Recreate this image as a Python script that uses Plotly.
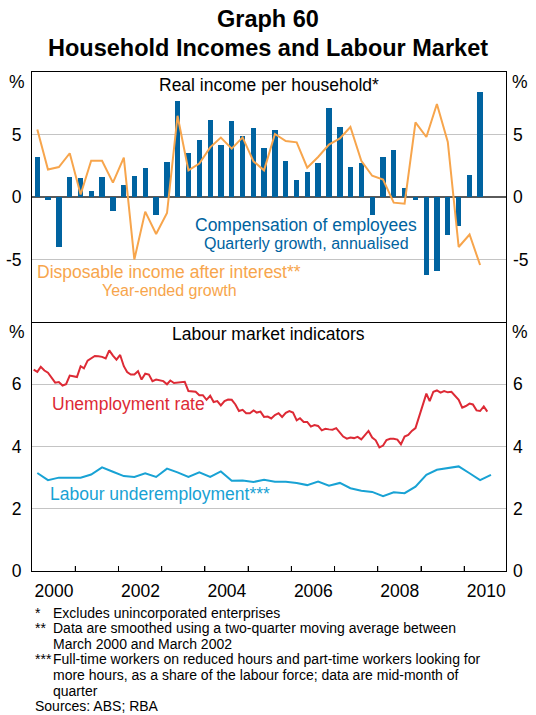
import pandas as pd
import plotly.graph_objects as go

# ---------------- data ----------------
# Compensation of employees, quarterly growth annualised (%), Q1 2000 - Q2 2010
comp_employees = [3.2, -0.2, -4.0, 1.6, 1.5, 0.45, 1.6, -1.1, 1.0, 1.65, 2.3, -1.45,
                  2.8, 7.7, 3.5, 4.6, 6.2, 4.2, 6.1, 4.85, 5.5, 3.9, 5.4, 2.85,
                  1.33, 1.97, 2.7, 7.1, 5.57, 2.37, 2.7, -1.4, 3.17, 3.73, 0.7, -0.25,
                  -6.24, -5.9, -3.0, -2.3, 1.8, 8.4]
# Disposable income after interest, year-ended growth (%)
disp_income = [5.4, 2.2, 2.4, 3.5, 0.2, 2.9, 2.9, 1.15, 3.15, -5.0, -1.17, -2.96,
               -1.28, 6.5, 2.13, 2.67, 3.97, 4.75, 3.87, 4.77, 2.85, 2.13, 5.04, 4.48,
               4.37, 2.35, 3.2, 4.19, 4.69, 5.6, 2.9, 1.7, 1.39, -0.45, -0.53, 5.97,
               4.8, 7.44, 4.4, -4.0, -3.0, -5.44]
# Unemployment rate (%), monthly Jan 2000 - Jul 2010
unemployment = [6.47, 6.40, 6.56, 6.44, 6.37, 6.19, 6.05, 6.07, 5.96, 6.00, 6.28, 6.26,
                6.23, 6.58, 6.51, 6.76, 6.83, 6.91, 6.90, 6.88, 6.83, 7.09, 6.92, 6.79,
                6.94, 6.58, 6.39, 6.31, 6.31, 6.42, 6.15, 6.34, 6.31, 6.10, 6.15, 6.13,
                6.10, 6.00, 6.12, 6.04, 6.06, 6.07, 6.08, 5.78, 5.78, 5.76, 5.65, 5.65,
                5.50, 5.63, 5.43, 5.46, 5.32, 5.46, 5.51, 5.50, 5.35, 5.14, 5.18, 5.07,
                5.07, 5.16, 5.09, 5.12, 4.95, 4.96, 4.90, 5.01, 5.07,
                4.95, 5.08, 5.14, 5.09, 4.84, 4.91, 4.79, 4.79, 4.64, 4.69, 4.66, 4.52,
                4.57, 4.55, 4.54, 4.59, 4.44, 4.32, 4.25, 4.29, 4.27, 4.31, 4.23, 4.36,
                4.50, 4.29, 4.20, 3.97, 4.03, 4.21, 4.25, 4.25, 4.22, 4.07, 4.32, 4.37,
                4.50, 4.59, 4.93, 5.35, 5.70, 5.46, 5.76, 5.80, 5.73, 5.78, 5.74, 5.76,
                5.62, 5.50, 5.25, 5.30, 5.38, 5.35, 5.16, 5.14, 5.29, 5.12]
# Labour underemployment (%), quarterly mid-month Feb 2000 - Aug 2010
underemployment = [3.15, 2.92, 3.0, 3.0, 3.0, 3.1, 3.33, 3.19, 3.05, 3.02, 3.14, 3.02,
                   3.29, 3.17, 3.02, 3.17, 3.02, 3.2, 2.9, 2.91, 2.86, 2.93, 2.87,
                   2.87, 2.83, 2.76, 2.87, 2.74, 2.83, 2.66, 2.58, 2.54, 2.40, 2.53, 2.50,
                   2.71, 3.09, 3.25, 3.31, 3.36, 3.14, 2.92, 3.09]

quarter_dates = pd.date_range("2000-02-01", periods=len(comp_employees), freq="3MS") + pd.Timedelta(days=14)
month_dates = pd.date_range("2000-01-01", periods=len(unemployment), freq="MS") + pd.Timedelta(days=14)
underemp_dates = pd.date_range("2000-02-01", periods=len(underemployment), freq="3MS") + pd.Timedelta(days=14)

# year-boundary ticks; only even years are labelled (labels centred in the year)
year_ticks = [f"{y}-01-01" for y in range(2000, 2011)]
year_tick_text = ["2000", "", "2002", "", "2004", "", "2006", "", "2008", "", "2010"]
x_range = ["2000-01-01", "2010-12-20"]

top_ticks = [-5, 0, 5]
top_tick_text = ["-5", "0", "5"]
bottom_ticks = [0, 2, 4, 6]
bottom_tick_text = ["0", "2", "4", "6"]

BLUE = "#0063a0"
ORANGE = "#f7a54c"
RED = "#dd2a35"
CYAN = "#18a2d4"
FONT = "Liberation Sans, Arial, sans-serif"

# ---------------- figure ----------------
W, H = 536, 715
L, R, T, B = 32, 30, 72, 144
PW, PH = W - L - R, H - T - B
YEAR_PX = PW / 10.97


def px(x):
    return (x - L) / PW


def py(y):
    return (H - B - y) / PH


fig = go.Figure()

fig.add_trace(go.Bar(x=quarter_dates, y=comp_employees, marker_color=BLUE,
                     marker_line_width=0, width=45 * 86400000,
                     xaxis="x2", yaxis="y2", showlegend=False))
fig.add_trace(go.Scatter(x=quarter_dates, y=disp_income, mode="lines",
                         line=dict(color=ORANGE, width=2),
                         xaxis="x2", yaxis="y4", showlegend=False))
fig.add_trace(go.Scatter(x=month_dates, y=unemployment, mode="lines",
                         line=dict(color=RED, width=2), xaxis="x", yaxis="y",
                         showlegend=False))
fig.add_trace(go.Scatter(x=underemp_dates, y=underemployment, mode="lines",
                         line=dict(color=CYAN, width=2), xaxis="x", yaxis="y3",
                         showlegend=False))

split = py(322)
tickfont = dict(family=FONT, size=17.5, color="black")

fig.update_layout(
    width=W, height=H,
    margin=dict(l=L, r=R, t=T, b=B, pad=0, autoexpand=False),
    paper_bgcolor="white", plot_bgcolor="white",
    font=dict(family=FONT, color="black"),
    bargap=0,
    xaxis=dict(domain=[0, 1], anchor="y", range=x_range, type="date",
               automargin=False,
               tickmode="array", tickvals=year_ticks, ticktext=year_tick_text,
               ticklabelshift=int(round(YEAR_PX / 2)), ticklabelstandoff=4,
               ticks="inside", ticklen=5, tickcolor="black", tickwidth=1,
               tickfont=tickfont, showgrid=False, zeroline=False,
               showline=True, linecolor="black", linewidth=1),
    xaxis2=dict(domain=[0, 1], anchor="y2", range=x_range, type="date",
                automargin=False,
                showticklabels=False, ticks="", showgrid=False, zeroline=False,
                showline=True, linecolor="black", linewidth=1, mirror=True),
    yaxis=dict(domain=[0, split], anchor="x", range=[0, 8], tickmode="array",
               tickvals=bottom_ticks, ticktext=bottom_tick_text, ticks="",
               tickfont=tickfont, ticklabelstandoff=6, automargin=False,
               showgrid=True, gridcolor="#c4c4c4", gridwidth=1, zeroline=False,
               showline=True, linecolor="black", linewidth=1, mirror=True),
    yaxis2=dict(domain=[split, 1], anchor="x2", range=[-10, 10], tickmode="array",
                tickvals=top_ticks, ticktext=top_tick_text, ticks="",
                tickfont=tickfont, ticklabelstandoff=6, automargin=False,
                showgrid=True, gridcolor="#c4c4c4", gridwidth=1,
                zeroline=True, zerolinecolor="#5a5a5a", zerolinewidth=2,
                showline=True, linecolor="black", linewidth=1, mirror=True),
    yaxis3=dict(overlaying="y", side="right", anchor="x", range=[0, 8],
                tickmode="array", tickvals=bottom_ticks, ticktext=bottom_tick_text,
                ticks="", tickfont=tickfont, ticklabelstandoff=6,
                automargin=False, showgrid=False, zeroline=False, showline=False),
    yaxis4=dict(overlaying="y2", side="right", anchor="x2", range=[-10, 10],
                tickmode="array", tickvals=top_ticks, ticktext=top_tick_text,
                ticks="", tickfont=tickfont, ticklabelstandoff=6,
                automargin=False, showgrid=False, zeroline=False, showline=False),
)

# year-boundary tick marks along the bottom axis (inside, 5 px)
tick_height = 5 / (PH * split)
for yt in year_ticks[1:]:
    fig.add_shape(type="line", xref="x", yref="y domain", x0=yt, x1=yt,
                  y0=0, y1=tick_height, line=dict(color="black", width=1),
                  layer="above")

annotations = []


def add_text(text, x, y, size, color="black", xanchor="center", bold=False):
    if bold:
        text = f"<b>{text}</b>"
    annotations.append(dict(text=text, x=px(x), y=py(y), xref="paper", yref="paper",
                            xanchor=xanchor, yanchor="middle", showarrow=False,
                            font=dict(family=FONT, size=size, color=color)))


add_text("Graph 60", W / 2, 19, 23.5, bold=True)
add_text("Household Incomes and Labour Market", W / 2, 48, 23.5, bold=True)

for yy in (82, 332):
    add_text("%", 17, yy, 17.5)
    add_text("%", 520, yy, 17.5)

add_text("Real income per household*", 268.5, 85, 17.5)
add_text("Compensation of employees", 306, 225, 17.5, BLUE)
add_text("Quarterly growth, annualised", 306, 243.5, 16, BLUE)
add_text("Disposable income after interest**", 169, 272, 17.5, ORANGE)
add_text("Year-ended growth", 169, 290, 16, ORANGE)
add_text("Labour market indicators", 268, 334, 17.5)
add_text("Unemployment rate", 128, 404, 17.5, RED)
add_text("Labour underemployment***", 160, 494, 17.5, CYAN)

notes = [
    ("*", "Excludes unincorporated enterprises"),
    ("**", "Data are smoothed using a two-quarter moving average between"),
    ("", "March 2000 and March 2002"),
    ("***", "Full-time workers on reduced hours and part-time workers looking for"),
    ("", "more hours, as a share of the labour force; data are mid-month of"),
    ("", "quarter"),
]
for i, (mark, txt) in enumerate(notes):
    yy = 612.5 + 15.6 * i
    if mark:
        add_text(mark, 32.5, yy, 14, xanchor="left")
    add_text(txt, 50.5, yy, 14, xanchor="left")
add_text("Sources: ABS; RBA", 32.5, 612.5 + 15.6 * 6, 14, xanchor="left")

fig.update_layout(annotations=annotations)

fig.write_html("out.html", config={"displayModeBar": False},
               post_script="document.body.style.margin='0';")
